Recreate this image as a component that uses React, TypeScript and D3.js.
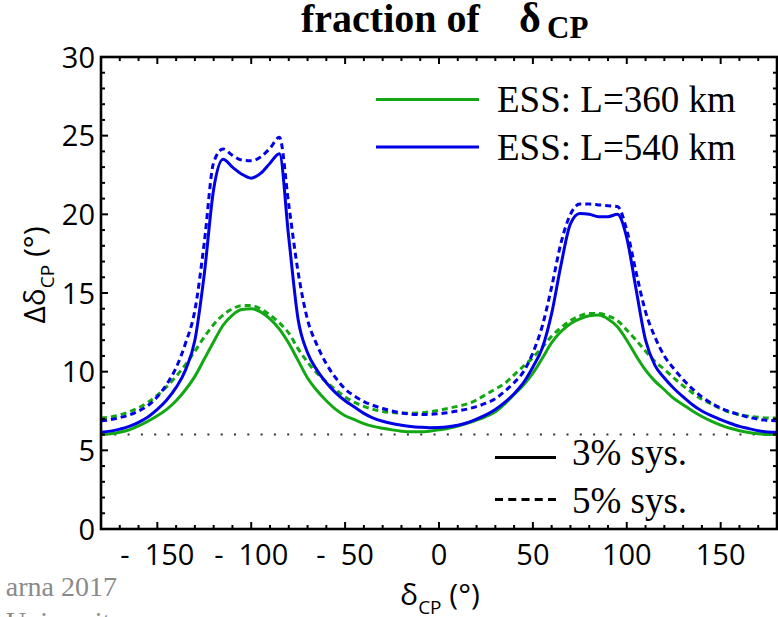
import React from "react";
import * as d3 from "d3";

// ---- data ----
const deltaCP = [
  -180, -175, -170, -165, -160, -155, -150, -145, -140, -135, -130, -125, -120, -115, -110, -105, -100, -95, -90, -85,
  -80, -75, -70, -65, -60, -55, -50, -45, -40, -35, -30, -25, -20, -15, -10, -5, 0, 5, 10, 15, 20, 25, 30, 35, 40,
  45, 50, 55, 60, 65, 70, 75, 80, 85, 90, 95, 100, 105, 110, 115, 120, 125, 130, 135, 140, 145, 150, 155, 160, 165,
  170, 175, 180,
];

// ESS L=360 km, 3% sys. (green solid)
const ess360sys3 = [
  6.0, 6.05, 6.15, 6.3, 6.55, 6.85, 7.2, 7.6, 8.15, 8.85, 9.7, 10.8, 11.9, 12.95, 13.6, 13.95, 14.0, 13.8, 13.35, 12.7,
  11.8, 10.7, 9.6, 8.8, 8.15, 7.6, 7.2, 6.95, 6.7, 6.52, 6.4, 6.3, 6.22, 6.18, 6.18, 6.22, 6.3, 6.4, 6.55, 6.72, 6.92,
  7.15, 7.45, 7.95, 8.55, 9.15, 9.9, 10.85, 11.85, 12.55, 13.05, 13.35, 13.55, 13.6, 13.35, 12.85, 12.0, 11.0, 10.1,
  9.4, 8.85, 8.3, 7.9, 7.5, 7.15, 6.85, 6.6, 6.4, 6.25, 6.13, 6.05, 6.01, 6.0,
];

// ESS L=360 km, 5% sys. (green dashed)
const ess360sys5 = [
  7.05, 7.12, 7.25, 7.45, 7.7, 8.05, 8.5, 9.05, 9.7, 10.45, 11.3, 12.2, 13.0, 13.6, 14.0, 14.2, 14.2, 14.0, 13.6, 13.1,
  12.45, 11.45, 10.6, 9.9, 9.35, 8.85, 8.4, 8.05, 7.8, 7.6, 7.47, 7.4, 7.37, 7.36, 7.38, 7.45, 7.55, 7.67, 7.8, 7.95,
  8.2, 8.55, 8.9, 9.25, 9.8, 10.35, 10.9, 11.55, 12.25, 12.8, 13.25, 13.55, 13.7, 13.7, 13.55, 13.25, 12.65, 12.0,
  11.3, 10.65, 10.15, 9.6, 9.1, 8.65, 8.25, 7.95, 7.65, 7.42, 7.27, 7.17, 7.1, 7.06, 7.05,
];

// ESS L=540 km, 3% sys. (blue solid)
const ess540sys3 = [
  6.15, 6.22, 6.35, 6.52, 6.78, 7.12, 7.6, 8.2, 9.0, 10.1, 12.0, 16.2, 21.6, 23.5, 23.0, 22.55, 22.3, 22.6, 23.25,
  23.85, 18.5, 13.3, 11.2, 10.1, 9.3, 8.65, 8.15, 7.75, 7.35, 7.05, 6.85, 6.7, 6.6, 6.52, 6.47, 6.44, 6.45, 6.5, 6.6,
  6.75, 6.98, 7.25, 7.6, 8.05, 8.6, 9.3, 10.3, 11.5, 13.7, 16.8, 19.4, 20.05, 20.0, 19.85, 19.85, 20.0, 18.5, 15.2,
  12.0, 10.4, 9.6, 8.95, 8.4, 7.9, 7.5, 7.2, 6.95, 6.72, 6.52, 6.38, 6.25, 6.17, 6.15,
];

// ESS L=540 km, 5% sys. (blue dashed)
const ess540sys5 = [
  6.88, 6.95, 7.08, 7.25, 7.5, 7.85, 8.4, 9.2, 10.25, 11.8, 13.9, 18.2, 23.3, 24.15, 23.75, 23.45, 23.4, 23.65, 24.2,
  24.9, 20.6, 16.3, 13.3, 11.7, 10.5, 9.6, 8.9, 8.45, 8.1, 7.85, 7.66, 7.5, 7.38, 7.3, 7.27, 7.28, 7.33, 7.4, 7.5,
  7.62, 7.78, 8.0, 8.28, 8.75, 9.3, 10.0, 11.2, 12.9, 15.4, 18.2, 20.0, 20.65, 20.65, 20.6, 20.55, 20.5, 19.0, 16.3,
  13.8, 12.2, 11.0, 10.2, 9.5, 8.9, 8.4, 8.0, 7.68, 7.45, 7.27, 7.1, 6.98, 6.9, 6.88,
];

const referenceLevel = 6;

const xTickValues = [-150, -100, -50, 0, 50, 100, 150];
const xTickLabels = ["-  150", "-  100", "-  50", "0", "50", "100", "150"];
const yTickValues = [0, 5, 10, 15, 20, 25, 30];
const yTickLabels = ["0", "5", "10", "15", "20", "25", "30"];

const legendBaselines = ["ESS: L=360 km", "ESS: L=540 km"];
const legendSys = ["3% sys.", "5% sys."];

const GREEN = "#13a813";
const BLUE = "#0000e6";

export default function App() {
  const W = 778;
  const H = 617;
  const left = 101,
    right = 777,
    top = 57,
    bottom = 529;

  const x = d3.scaleLinear().domain([-180, 180]).range([left, right]);
  const y = d3.scaleLinear().domain([0, 30]).range([bottom, top]);

  const line = (vals: number[]) =>
    d3
      .line<number>()
      .x((_, i) => x(deltaCP[i]))
      .y((d) => y(d))
      .curve(d3.curveMonotoneX)(vals) || "";

  const xMinor = d3.range(-180, 181, 10);
  const yMinor = d3.range(0, 31, 1);
  const sans = "'Open Sans', 'Liberation Sans', sans-serif";
  const serif = "'Liberation Serif', 'Times New Roman', serif";

  const series = [
    { vals: ess360sys3, color: GREEN, dash: undefined },
    { vals: ess360sys5, color: GREEN, dash: "6,4" },
    { vals: ess540sys3, color: BLUE, dash: undefined },
    { vals: ess540sys5, color: BLUE, dash: "6,4" },
  ];

  return (
    <svg
      width={W}
      height={H}
      viewBox={`0 0 ${W} ${H}`}
      style={{ position: "absolute", left: 0, top: 0, display: "block", background: "#fff" }}
    >
      <defs>
        <clipPath id="plotClip">
          <rect x={left} y={top} width={right - left} height={bottom - top} />
        </clipPath>
      </defs>
      <rect x={0} y={0} width={W} height={H} fill="#fff" />

      {/* title */}
      <text x={301} y={32} fontFamily={serif} fontWeight="bold" fontSize={40} fill="#000">
        fraction of
      </text>
      <text x={519} y={32} fontFamily={serif} fontWeight="bold" fontSize={42} fill="#000">
        δ
      </text>
      <text x={547} y={38} fontFamily={serif} fontWeight="bold" fontSize={31} fill="#000">
        CP
      </text>

      {/* reference dotted line */}
      <line
        x1={left}
        x2={right}
        y1={y(referenceLevel)}
        y2={y(referenceLevel)}
        stroke="#333"
        strokeWidth={2}
        strokeDasharray="2,11.3"
      />

      {/* curves */}
      <g clipPath="url(#plotClip)">
        {series.map((s, i) => (
          <path
            key={i}
            d={line(s.vals)}
            fill="none"
            stroke={s.color}
            strokeWidth={3}
            strokeDasharray={s.dash}
            strokeLinejoin="round"
          />
        ))}
      </g>

      {/* ticks */}
      <g stroke="#000" strokeWidth={2}>
        {xMinor.map((v) => {
          const major = v % 50 === 0;
          const len = major ? 7 : 4;
          return (
            <g key={"x" + v}>
              <line x1={x(v)} x2={x(v)} y1={bottom} y2={bottom - len} />
              <line x1={x(v)} x2={x(v)} y1={top} y2={top + len} />
            </g>
          );
        })}
        {yMinor.map((v) => {
          const major = v % 5 === 0;
          const len = major ? 7 : 4;
          return (
            <g key={"y" + v}>
              <line x1={left} x2={left + len} y1={y(v)} y2={y(v)} />
              <line x1={right} x2={right - len} y1={y(v)} y2={y(v)} />
            </g>
          );
        })}
      </g>

      {/* frame */}
      <rect
        x={left}
        y={top}
        width={right - left}
        height={bottom - top}
        fill="none"
        stroke="#000"
        strokeWidth={2.6}
      />

      {/* tick labels */}
      {xTickValues.map((v, i) => (
        <text
          key={"xl" + v}
          x={x(v)}
          y={565}
          textAnchor="middle"
          fontFamily={sans}
          fontSize={29}
          fill="#000"
          style={{ whiteSpace: "pre" }}
        >
          {xTickLabels[i]}
        </text>
      ))}
      {yTickValues.map((v, i) => (
        <text
          key={"yl" + v}
          x={95}
          y={y(v) + 10.5}
          textAnchor="end"
          fontFamily={sans}
          fontSize={29}
          fill="#000"
        >
          {yTickLabels[i]}
        </text>
      ))}

      {/* axis labels */}
      <text
        transform="translate(45,275) rotate(-90)"
        textAnchor="middle"
        fontFamily={sans}
        fontSize={30}
        fill="#000"
      >
        Δδ
        <tspan fontSize={19} dy={9}>
          CP
        </tspan>
        <tspan dy={-9}> (°)</tspan>
      </text>
      <text x={440} y={605} textAnchor="middle" fontFamily={sans} fontSize={30} fill="#000">
        δ
        <tspan fontSize={19} dy={9}>
          CP
        </tspan>
        <tspan dy={-9}> (°)</tspan>
      </text>

      {/* legend: baselines */}
      <line x1={376} x2={479} y1={99.5} y2={99.5} stroke={GREEN} strokeWidth={3} />
      <line x1={376} x2={479} y1={147} y2={147} stroke={BLUE} strokeWidth={3} />
      <text x={497} y={111.5} fontFamily={serif} fontSize={37} fill="#000">
        {legendBaselines[0]}
      </text>
      <text x={497} y={160} fontFamily={serif} fontSize={37} fill="#000">
        {legendBaselines[1]}
      </text>

      {/* legend: systematics */}
      <line x1={495} x2={556} y1={457.5} y2={457.5} stroke="#000" strokeWidth={3} />
      <line
        x1={495}
        x2={556}
        y1={499.5}
        y2={499.5}
        stroke="#000"
        strokeWidth={3}
        strokeDasharray="8,5.25"
      />
      <text x={572} y={465} fontFamily={serif} fontSize={37} fill="#000">
        {legendSys[0]}
      </text>
      <text x={572} y={513} fontFamily={serif} fontSize={37} fill="#000">
        {legendSys[1]}
      </text>

      {/* cut-off caption at bottom-left */}
      <text x={117} y={596} textAnchor="end" fontFamily={serif} fontSize={28} fill="#8a8a8a">
        arna 2017
      </text>
      <text x={6} y={631} fontFamily={serif} fontSize={28} fill="#8a8a8a">
        University
      </text>
    </svg>
  );
}
